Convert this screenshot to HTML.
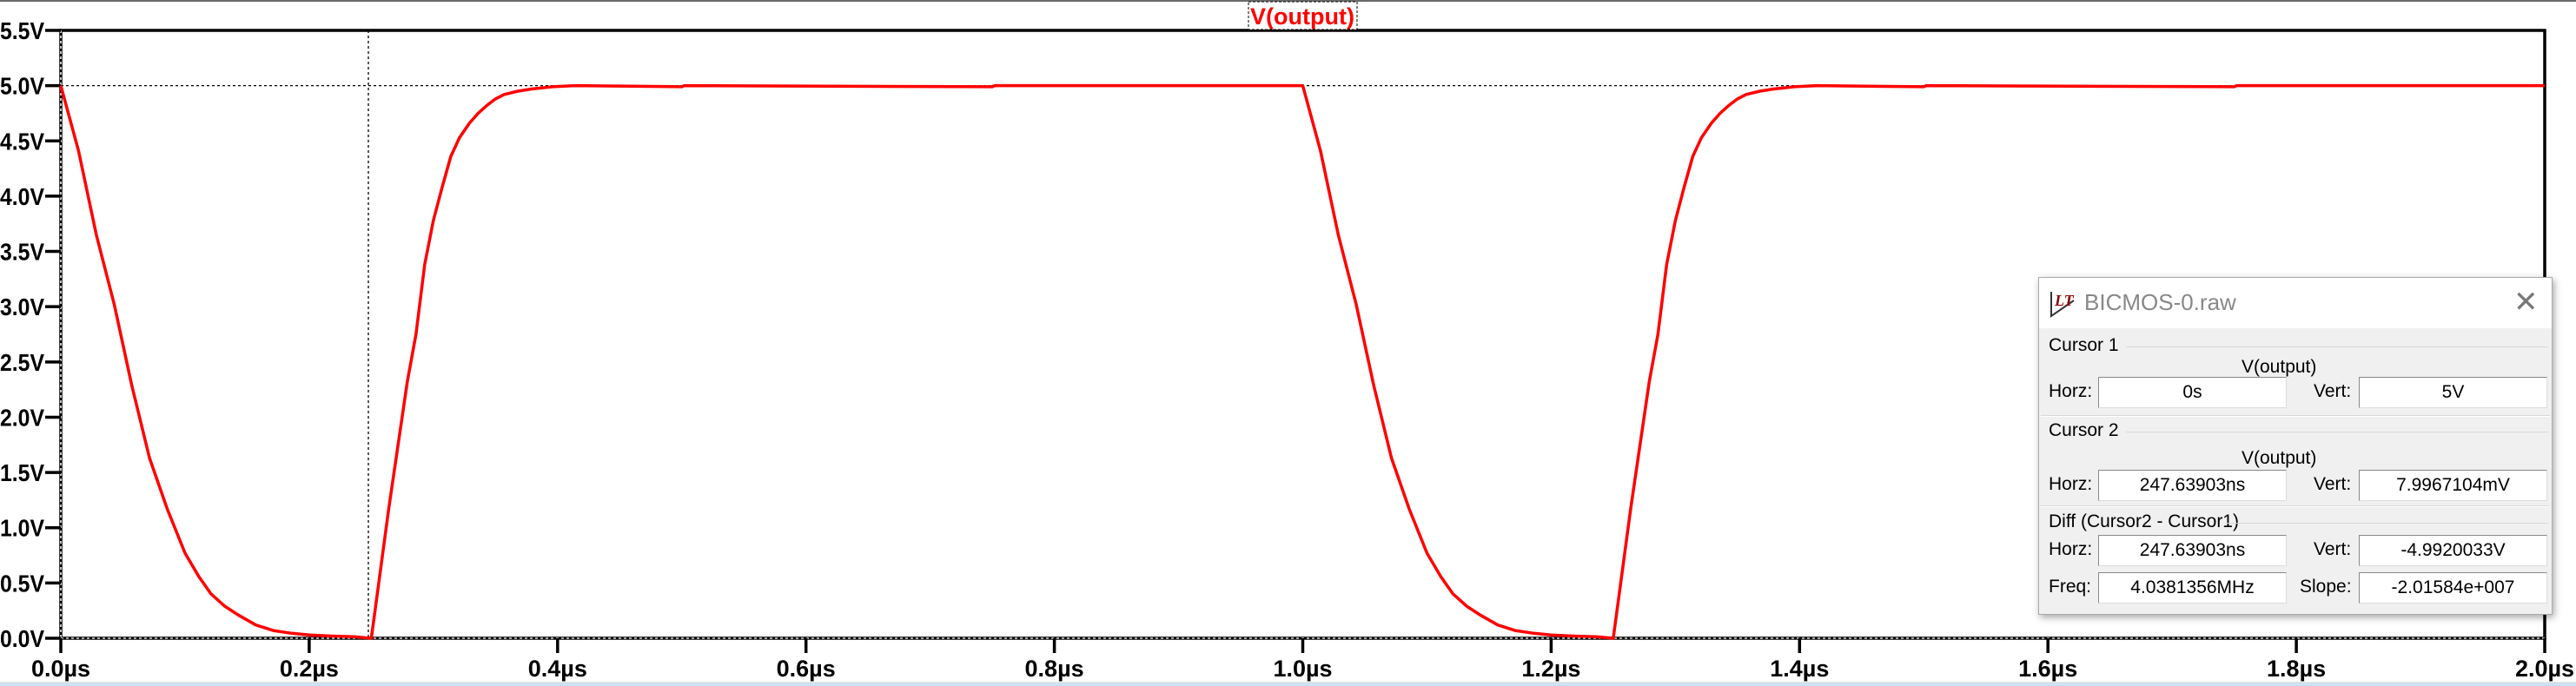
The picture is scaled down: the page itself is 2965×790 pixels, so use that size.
<!DOCTYPE html>
<html><head><meta charset="utf-8"><style>
html,body{margin:0;padding:0;background:#fff;width:2965px;height:789px;overflow:hidden;font-family:"Liberation Sans",sans-serif}
#dlg{position:absolute;left:2346px;top:319px;width:590px;height:387px;background:#f0f0f0;border:1px solid #aaa;box-shadow:2px 3px 8px rgba(0,0,0,.35)}
#dlg .tb{position:absolute;left:0;top:0;width:590px;height:58px;background:#fff}
.t{position:absolute;font-size:21px;color:#000;white-space:nowrap}
.box{position:absolute;width:215px;height:34px;background:#fff;border:1px solid #888;border-right-color:#ddd;border-bottom-color:#ddd;font-size:21px;text-align:center;line-height:34px}
.sep{position:absolute;left:2px;width:586px;height:1px;background:#d8d8d8;border-bottom:1px solid #fff}
.grp{position:absolute;left:100px;right:4px;height:1px;background:#d8d8d8}
</style></head><body>
<div style="position:absolute;left:0;top:0;width:2965px;height:2px;background:#6a6a6a"></div>
<div style="position:absolute;left:0;top:785px;width:2965px;height:4px;background:#cfe0f3;border-top:1px solid #e6e6e6"></div>
<svg id="chart" width="2965" height="789" style="position:absolute;left:0;top:0" xmlns="http://www.w3.org/2000/svg"></svg>

<div id="dlg">
 <div class="tb">
  <svg style="position:absolute;left:12px;top:14px" width="32" height="32"><path d="M2 2 L2 30 L28 12" fill="none" stroke="#333" stroke-width="2"/><text x="6" y="18" font-family="Liberation Serif" font-style="italic" font-weight="bold" font-size="18" fill="#8b0000">LT</text></svg>
  <div class="t" style="left:52px;top:13px;font-size:26px;color:#888">BICMOS-0.raw</div>
  <div class="t" style="left:546px;top:8px;font-size:34px;color:#777">✕</div>
 </div>
 <div class="t" style="left:11px;top:66px">Cursor 1</div>
 <div class="grp" style="top:79px"></div>
 <div class="t" style="left:233px;top:91px">V(output)</div>
 <div class="t" style="left:11px;top:119px">Horz:</div>
 <div class="box" style="left:68px;top:114px">0s</div>
 <div class="t" style="left:316px;top:119px">Vert:</div>
 <div class="box" style="left:368px;top:114px">5V</div>
 <div class="sep" style="top:158px"></div>
 <div class="t" style="left:11px;top:164px">Cursor 2</div>
 <div class="grp" style="top:177px"></div>
 <div class="t" style="left:233px;top:196px">V(output)</div>
 <div class="t" style="left:11px;top:226px">Horz:</div>
 <div class="box" style="left:68px;top:221px">247.63903ns</div>
 <div class="t" style="left:316px;top:226px">Vert:</div>
 <div class="box" style="left:368px;top:221px">7.9967104mV</div>
 <div class="sep" style="top:262px"></div>
 <div class="t" style="left:11px;top:269px">Diff (Cursor2 - Cursor1)</div>
 <div class="grp" style="top:282px;left:215px"></div>
 <div class="t" style="left:11px;top:301px">Horz:</div>
 <div class="box" style="left:68px;top:296px">247.63903ns</div>
 <div class="t" style="left:316px;top:301px">Vert:</div>
 <div class="box" style="left:368px;top:296px">-4.9920033V</div>
 <div class="t" style="left:11px;top:344px">Freq:</div>
 <div class="box" style="left:68px;top:339px">4.0381356MHz</div>
 <div class="t" style="left:300px;top:344px">Slope:</div>
 <div class="box" style="left:368px;top:339px">-2.01584e+007</div>
</div>

<script>
const timesUs = [0,0.0143,0.0286,0.043,0.0571,0.0714,0.0857,0.1,0.111,0.121,0.132,0.143,0.157,0.171,0.186,0.2,0.218,0.236,0.25,0.264,0.279,0.286,0.293,0.3,0.307,0.314,0.321,0.329,0.336,0.343,0.35,0.357,0.368,0.379,0.396,0.414,0.5,0.502,0.75,0.752,1.0,1.0143,1.0286,1.043,1.0571,1.0714,1.0857,1.1,1.111,1.121,1.132,1.143,1.157,1.171,1.186,1.2,1.218,1.236,1.25,1.264,1.279,1.286,1.293,1.3,1.307,1.314,1.321,1.329,1.336,1.343,1.35,1.357,1.368,1.379,1.396,1.414,1.5,1.502,1.75,1.752,2.0];
const voltsV = [5.0,4.41,3.65,3.02,2.29,1.63,1.17,0.77,0.56,0.40,0.29,0.21,0.12,0.07,0.045,0.03,0.02,0.013,0.0,1.17,2.32,2.75,3.38,3.78,4.08,4.36,4.53,4.66,4.75,4.82,4.88,4.92,4.95,4.97,4.99,5.0,4.99,5.0,4.99,5.0,5.0,4.41,3.65,3.02,2.29,1.63,1.17,0.77,0.56,0.40,0.29,0.21,0.12,0.07,0.045,0.03,0.02,0.013,0.0,1.17,2.32,2.75,3.38,3.78,4.08,4.36,4.53,4.66,4.75,4.82,4.88,4.92,4.95,4.97,4.99,5.0,4.99,5.0,4.99,5.0,5.0];
const yTickValues = [0,0.5,1,1.5,2,2.5,3,3.5,4,4.5,5,5.5];
const yTickLabels = ["0.0V","0.5V","1.0V","1.5V","2.0V","2.5V","3.0V","3.5V","4.0V","4.5V","5.0V","5.5V"];
const xTickValues = [0,0.2,0.4,0.6,0.8,1.0,1.2,1.4,1.6,1.8,2.0];
const xTickLabels = ["0.0µs","0.2µs","0.4µs","0.6µs","0.8µs","1.0µs","1.2µs","1.4µs","1.6µs","1.8µs","2.0µs"];
const cursor1 = [0, 5.0];
const cursor2 = [0.24763903, 0.0079967];

const L=70,R=2929,T=35,B=735;
function xs(t){return L+(t-0)/(2.0-0)*(R-L);}
function ys(v){return B-(v-0)/(5.5-0)*(B-T);}
const svg=document.getElementById('chart');
const NS='http://www.w3.org/2000/svg';
function mk(tag,attrs){const e=document.createElementNS(NS,tag);for(const k in attrs)e.setAttribute(k,attrs[k]);svg.appendChild(e);return e;}

let fr=mk('rect',{x:L,y:T,width:R-L,height:B-T,fill:'none',stroke:'#000','stroke-width':3.5});



let c1v=mk('line',{x1:xs(cursor1[0]),y1:T,x2:xs(cursor1[0]),y2:B,stroke:'#fff','stroke-width':1.5,'stroke-dasharray':'3,3'});


let c1h=mk('line',{x1:L,y1:ys(cursor1[1]),x2:R,y2:ys(cursor1[1]),stroke:'#000','stroke-width':1.3,'stroke-dasharray':'3,3'});


let c2v=mk('line',{x1:xs(cursor2[0]),y1:T,x2:xs(cursor2[0]),y2:B,stroke:'#000','stroke-width':1.3,'stroke-dasharray':'3,3'});


let c2h=mk('line',{x1:L,y1:B,x2:R,y2:B,stroke:'#fff','stroke-width':1.2,'stroke-dasharray':'3,3'});



yTickValues.forEach((v,i)=>{
  const y=ys(v);
  let tk=mk('line',{x1:52,y1:y,x2:L,y2:y,stroke:'#000','stroke-width':3.5});
  
  
  let tx=mk('text',{x:51,y:y+10,'text-anchor':'end','font-family':'Liberation Sans, sans-serif','font-weight':'bold','font-size':28,fill:'#000','textLength':51,'lengthAdjust':'spacingAndGlyphs'});
  tx.textContent=yTickLabels[i];
  
  
});
xTickValues.forEach((t,i)=>{
  const x=xs(t);
  let tk=mk('line',{x1:x,y1:B,x2:x,y2:752,stroke:'#000','stroke-width':3.5});
  
  
  let tx=mk('text',{x:x,y:779,'text-anchor':'middle','font-family':'Liberation Sans, sans-serif','font-weight':'bold','font-size':27,fill:'#000'});
  tx.textContent=xTickLabels[i];
  
  
});

let d=timesUs.map((t,i)=>(i?'L':'M')+xs(t).toFixed(1)+','+ys(voltsV[i]).toFixed(1)).join(' ');
let p=mk('path',{d:d,fill:'none',stroke:'#ff0000','stroke-width':3.5,'stroke-linejoin':'round'});



let tb=mk('rect',{x:1437,y:2,width:125,height:32,fill:'#fff',stroke:'#000','stroke-width':1,'stroke-dasharray':'3,2'});


let tt=mk('text',{x:1499,y:28,'text-anchor':'middle','font-family':'Liberation Sans, sans-serif','font-weight':'bold','font-size':27,fill:'#ff0000'});
tt.textContent='V(output)';


</script>
</body></html>
